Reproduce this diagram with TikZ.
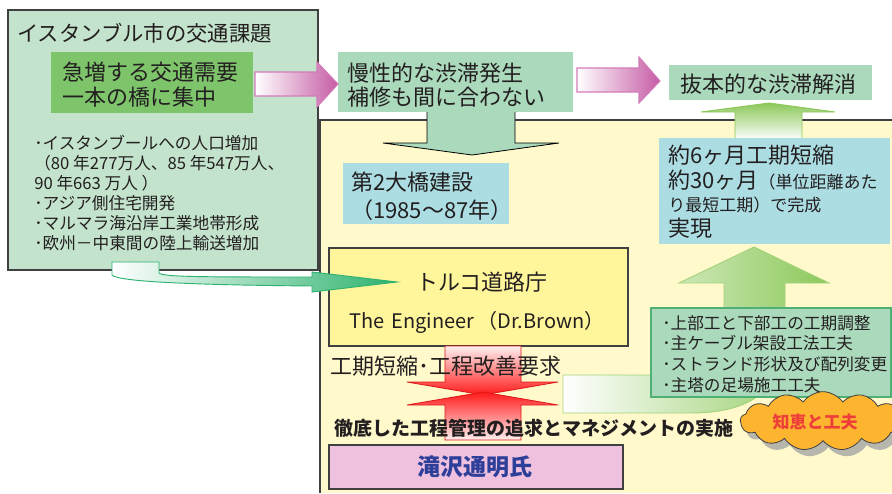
\documentclass[tikz,border=0pt]{standalone}
\usepackage{fontspec}
\setmainfont{Noto Sans CJK JP}
\usetikzlibrary{shapes.symbols,shadows}
\definecolor{leftbox}{HTML}{C3E3CC}
\definecolor{innergreen}{HTML}{7DC46B}
\definecolor{palegreen}{HTML}{AAD9BC}
\definecolor{paleblue}{HTML}{ABDDE3}
\definecolor{yellowbg}{HTML}{FFF9CC}
\definecolor{engbox}{HTML}{FFF59B}
\definecolor{pinkbox}{HTML}{EFC1DE}
\definecolor{pinkarrow}{HTML}{C65BA5}
\definecolor{pinkline}{HTML}{D27CB8}
\definecolor{bordergray}{HTML}{404040}
\definecolor{upgreen}{HTML}{8CC85A}
\definecolor{curvegreen}{HTML}{2EB36F}
\definecolor{cloudorange}{HTML}{FDB52F}
\definecolor{cloudred}{HTML}{EE3E3A}
\definecolor{nameblue}{HTML}{2E3F9A}
\definecolor{textdark}{HTML}{231F20}
\definecolor{boxgreenline}{HTML}{4FB075}
\begin{document}
\begin{tikzpicture}[x=0.75pt,y=-0.75pt,
  txt/.style={inner sep=0pt,anchor=west,text=textdark,align=left},
  big/.style={font=\fontsize{16.5}{18.75}\selectfont},
  arrowpink/.style={draw=pinkline,line width=0.8pt,left color=white,right color=pinkarrow},
  boxplain/.style={inner sep=0pt,anchor=north west}]
\useasboundingbox (0,0) rectangle (892,493);
\fill[white] (0,0) rectangle (892,493);

% yellow region
\fill[yellowbg] (320,120) rectangle (892,493);
\draw[bordergray,line width=0.9pt] (320,493) -- (320,120) -- (892,120);

% left main box
\draw[bordergray,fill=leftbox,line width=0.9pt] (8,10) rectangle (318,270);
\fill[innergreen] (51,52) rectangle (253,113);

% green down arrow (drawn before box so box covers shaft top)
\draw[black,line width=0.6pt,fill=palegreen] (427,110) -- (427,143) -- (383,143) -- (472,155) -- (559,143) -- (515,143) -- (515,110);

% top boxes
\fill[palegreen] (338,52) rectangle (573,112);
\fill[palegreen] (669,65) rectangle (872,100);

% pink arrows
\draw[arrowpink] (255,72) -- (317,72) -- (317,62) -- (338,84) -- (317,107) -- (317,96) -- (255,96) -- cycle;
\draw[arrowpink] (577,68) -- (639,68) -- (639,57) -- (660,81) -- (639,103) -- (639,92) -- (577,92) -- cycle;

% blue box 1
\fill[paleblue] (343,163) rectangle (509,224);

% up arrow 1
\draw[upgreen,line width=0.7pt,top color=upgreen,bottom color=white] (735,140) -- (735,112) -- (701,112) -- (769,103) -- (835,112) -- (802,112) -- (802,140) -- cycle;
\fill[paleblue] (659,138) rectangle (890,244);

% engineer box and pink box
\draw[bordergray,fill=engbox,line width=0.9pt] (329,248) rectangle (628,346);
\draw[bordergray,fill=pinkbox,line width=0.9pt] (329,445) rectangle (623,489);

% curved up arrow 2
\draw[upgreen!80,line width=0.7pt,left color=white,right color=upgreen]
  (563,375) -- (655,375) .. controls (712,375) and (724,350) .. (724,305) -- (724,283) -- (679,283) -- (754,247) -- (829,283) -- (785,283) -- (785,330)
  .. controls (785,395) and (745,413) .. (690,413) -- (563,413) -- cycle;

% green bullet box
\draw[boxgreenline,fill=palegreen,line width=0.9pt] (651,308) rectangle (891,397);

% red double arrow
\draw[red!85!black!90,line width=0.6pt,top color=red!6,bottom color=red!90] (445,346) -- (521,346) -- (521,382) -- (558,382) -- (483,395) -- (407,382) -- (445,382) -- cycle;
\draw[red!85!black!90,line width=0.6pt,top color=red!90,bottom color=red!6] (445,440) -- (521,440) -- (521,405) -- (558,405) -- (483,392) -- (407,405) -- (445,405) -- cycle;

% curved green arrow from left box
\draw[curvegreen,line width=0.7pt,left color=white,right color=curvegreen]
  (112,262) -- (159,262) -- (159,273) .. controls (163,277) and (200,277) .. (312,277) -- (312,272) -- (397,282) -- (312,292) -- (312,286)
  .. controls (200,285) and (118,282) .. (112,275) -- cycle;

% cloud
\node[cloud,cloud puffs=13,cloud puff arc=110,aspect=3.0,draw=bordergray,line width=0.6pt,fill=cloudorange,
  minimum width=124pt,minimum height=44pt,inner sep=0pt,
  drop shadow={shadow xshift=4pt,shadow yshift=-5pt,fill=gray!70,opacity=0.8}] (cloud) at (823,421) {};
\node[inner sep=0pt,text=cloudred,font=\fontsize{12.75}{14}\selectfont\bfseries] (chie) at (815,422) {知恵と工夫};

% texts
\node[txt,font=\fontsize{16}{18}\selectfont] (title) at (17,33) {イスタンブル市の交通課題};
\node[txt,font=\fontsize{16.5}{18.75}\selectfont] (surge) at (62,85) {急増する交通需要\\一本の橋に集中};
\node[txt,font=\fontsize{12.5}{15}\selectfont] (bul1) at (34,193) {･イスタンブールへの人口増加\\（80 年277万人、85 年547万人、\\90 年663 万人 ）\\･アジア側住宅開発\\･マルマラ海沿岸工業地帯形成\\･欧州－中東間の陸上輸送増加};
\node[txt,font=\fontsize{16.5}{18}\selectfont] (chronic) at (347,85) {慢性的な渋滞発生\\補修も間に合わない};
\node[txt,font=\fontsize{16.5}{18}\selectfont] (solve) at (680,84) {抜本的な渋滞解消};
\node[txt,font=\fontsize{16.5}{21}\selectfont] (second) at (351,196) {第2大橋建設\\（1985～87年）};
\node[txt,big] (six) at (668,155) {約6ヶ月工期短縮};
\node[txt] (thirty) at (668,180) {{\fontsize{16.5}{18}\selectfont 約30ヶ月}{\fontsize{12.75}{14}\selectfont （単位距離あた}};
\node[txt,font=\fontsize{12.75}{14}\selectfont] (shortest) at (668,205) {り最短工期）で完成};
\node[txt,big] (real) at (668,228) {実現};
\node[inner sep=0pt,text=textdark,font=\fontsize{16.5}{18}\selectfont] (turk) at (482,282) {トルコ道路庁};
\node[inner sep=0pt,text=textdark,font=\fontsize{15}{18}\selectfont] (eng) at (477,322) {The\,\,Engineer\,（Dr.Brown）};
\node[txt,font=\fontsize{16.5}{18}\selectfont] (demand) at (330,366) {工期短縮･工程改善要求};
\node[txt,font=\fontsize{14.25}{16}\selectfont\bfseries] (mgmt) at (334,428) {徹底した工程管理の追求とマネジメントの実施};
\node[inner sep=0pt,text=nameblue,font=\fontsize{17.25}{18}\selectfont\bfseries] (taki) at (475,467) {滝沢通明氏};
\node[txt,font=\fontsize{12.5}{15.5}\selectfont] (bul2) at (662,354) {･上部工と下部工の工期調整\\･主ケーブル架設工法工夫\\･ストランド形状及び配列変更\\･主塔の足場施工工夫};
\end{tikzpicture}
\end{document}
